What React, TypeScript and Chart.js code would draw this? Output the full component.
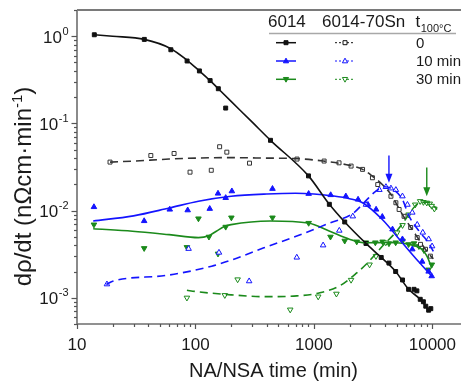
import React, { useEffect, useRef } from 'react';
import { Chart, registerables } from 'chart.js';

Chart.register(...registerables);

// ---- axes ----
const X_MIN = 10;
const X_MAX = 17450;
const Y_MIN = 5e-4;
const Y_MAX = 2;
const xTickValues = [10, 100, 1000, 10000];
const xTickLabels = ['10', '100', '1000', '10000'];
const yTickValues = [1, 0.1, 0.01, 0.001];
const yTickExponents = ['0', '-1', '-2', '-3'];
const xTitle = 'NA/NSA time (min)';
const yTitleMain = 'dρ/dt (nΩcm·min';
const yTitleSup = '-1';
const yTitleEnd = ')';

// ---- legend ----
const legendHeaders = ['6014', '6014-70Sn'];
const legendT = 't';
const legendTSub = '100°C';
const legendRows = ['0', '10 min', '30 min'];

// ---- colours ----
const BLACK = '#111111';
const BLUE = '#1414ff';
const GREEN = '#1b8a1b';

// ---- 6014, t=0 (filled squares, solid) ----
const a0FitX = [14, 20, 37, 62, 85, 108, 133, 156, 200, 300, 430, 900, 1350, 1820, 2750, 3700, 4900, 6300, 7900, 9300];
const a0FitY = [1.04, 1.0, 0.92, 0.72, 0.53, 0.4, 0.31, 0.25, 0.179, 0.104, 0.064, 0.025, 0.0118, 0.0074, 0.0042, 0.0029, 0.002, 0.00125, 0.00096, 0.00072];
const a0PtX = [14, 37, 62, 85, 108, 133, 156, 180, 430, 900, 1350, 1820, 2750, 3700, 4300, 4900, 5600, 6300, 7000, 7400, 7900, 8400, 8800, 9300, 9700];
const a0PtY = [1.04, 0.92, 0.7, 0.52, 0.4, 0.31, 0.25, 0.15, 0.064, 0.025, 0.0118, 0.0074, 0.0042, 0.0029, 0.0025, 0.002, 0.0016, 0.00125, 0.00125, 0.0012, 0.00096, 0.0009, 0.0008, 0.00072, 0.00075];

// ---- 6014-70Sn, t=0 (open squares, dashed) ----
const b0FitX = [19, 30, 60, 100, 200, 400, 700, 1200, 2000, 2575, 3120, 3780, 4470, 5590, 7220, 9300, 10200];
const b0FitY = [0.036, 0.037, 0.039, 0.04, 0.0405, 0.04, 0.0395, 0.037, 0.033, 0.0297, 0.0248, 0.0199, 0.0153, 0.009, 0.0053, 0.0032, 0.0028];
const b0PtX = [19, 42, 66, 90, 136, 160, 184, 286, 720, 1220, 1630, 2060, 2575, 3120, 3460, 4470, 4920, 5240, 5770, 6560, 7450, 7940, 8750, 9620];
const b0PtY = [0.036, 0.0428, 0.0452, 0.0276, 0.029, 0.054, 0.0468, 0.035, 0.039, 0.037, 0.0353, 0.0324, 0.0297, 0.0238, 0.0199, 0.0146, 0.0123, 0.0103, 0.0086, 0.0064, 0.0049, 0.0041, 0.0036, 0.003];

// ---- 6014, t=10 min (filled triangles, solid) ----
const a10FitX = [13.7, 30, 60, 106, 200, 400, 700, 1000, 1400, 2000, 2575, 3780, 5550, 7640, 9870];
const a10FitY = [0.0076, 0.0087, 0.0107, 0.0128, 0.0146, 0.0155, 0.0158, 0.0155, 0.0148, 0.0137, 0.0123, 0.0079, 0.0043, 0.0026, 0.00177];
const a10PtX = [13.9, 36.9, 60.7, 86, 132, 155, 180, 203, 447, 903, 1386, 1860, 2360, 2860, 3350, 3780, 4610, 5590, 6770, 8200, 9300, 9870];
const a10PtY = [0.011, 0.0076, 0.0103, 0.0101, 0.0105, 0.0157, 0.014, 0.0167, 0.0178, 0.0156, 0.0151, 0.0146, 0.0134, 0.0117, 0.0103, 0.0085, 0.0061, 0.0047, 0.0036, 0.0026, 0.002, 0.00177];

// ---- 6014-70Sn, t=10 min (open triangles, dashed) ----
const b10FitX = [17.7, 20, 56, 137, 200, 378, 717, 1360, 2140, 2750, 3300, 3930, 4500, 5590, 6310, 7890, 9260, 10190];
const b10FitY = [0.00142, 0.00155, 0.0018, 0.0023, 0.0027, 0.00374, 0.0051, 0.0072, 0.0093, 0.013, 0.0165, 0.0188, 0.018, 0.0134, 0.0088, 0.0056, 0.0043, 0.0034];
const b10PtX = [17.9, 87.5, 158, 284, 717, 1196, 1638, 2130, 2750, 3570, 4055, 4470, 4920, 5590, 6160, 6770, 7450, 8300, 9310, 9950];
const b10PtY = [0.00143, 0.00365, 0.0033, 0.00155, 0.0029, 0.004, 0.0059, 0.0086, 0.0117, 0.0173, 0.0187, 0.018, 0.0173, 0.0146, 0.0117, 0.0095, 0.0069, 0.0056, 0.0047, 0.0039];

// ---- 6014, t=30 min (filled down-triangles, solid) ----
const a30FitX = [13.7, 29.4, 60, 106, 128, 150, 177, 200, 430, 897, 1360, 1995, 2750, 4300, 6310, 8140, 9000, 9870];
const a30FitY = [0.0062, 0.0058, 0.0053, 0.0049, 0.0051, 0.0058, 0.0066, 0.0069, 0.0076, 0.0072, 0.0058, 0.0047, 0.00427, 0.0043, 0.0041, 0.0036, 0.003, 0.0022];
const a30PtX = [13.9, 36.9, 84.7, 106, 130, 155, 180, 201, 447, 903, 1380, 1820, 2300, 2750, 3300, 3800, 4300, 4900, 5600, 6300, 7000, 7700, 8500, 9260, 9900];
const a30PtY = [0.0069, 0.0037, 0.0038, 0.0081, 0.005, 0.0032, 0.0065, 0.0083, 0.0083, 0.0072, 0.005, 0.0045, 0.0044, 0.0043, 0.0043, 0.0044, 0.0042, 0.0043, 0.0045, 0.0041, 0.0042, 0.0039, 0.0035, 0.0021, 0.0024];

// ---- 6014-70Sn, t=30 min (open down-triangles, dashed) ----
const b30FitX = [84.7, 100, 200, 378, 717, 1122, 1648, 2270, 2930, 3780, 4887, 5920, 7170, 8000, 8870, 10190, 10950];
const b30FitY = [0.00122, 0.00118, 0.00108, 0.00103, 0.00105, 0.00114, 0.00137, 0.0019, 0.00263, 0.0039, 0.0056, 0.0079, 0.0113, 0.0123, 0.0125, 0.0115, 0.0103];
const b30PtX = [84.7, 177, 227, 631, 1087, 1549, 2060, 2950, 3340, 4045, 5050, 5600, 6300, 7170, 7890, 8400, 8970, 9500, 9870, 10400];
const b30PtY = [0.001, 0.00107, 0.00162, 0.00073, 0.00103, 0.00111, 0.0016, 0.0024, 0.003, 0.0043, 0.0056, 0.0068, 0.009, 0.0117, 0.0128, 0.0125, 0.0123, 0.012, 0.0113, 0.0105];

// ---- arrows ----
const arrowX = [4300, 8970];
const arrowTop = [0.0428, 0.0312];
const arrowTip = [0.0208, 0.0146];
const arrowColors = [BLUE, GREEN];

const FONT = '"Liberation Sans", Arial, Helvetica, sans-serif';

const zip = (xs: number[], ys: number[]) => xs.map((x, i) => ({ x, y: ys[i] }));

function fitDs(xs: number[], ys: number[], color: string, dashed: boolean) {
  return {
    data: zip(xs, ys),
    showLine: true,
    borderColor: color,
    backgroundColor: color,
    borderWidth: 1.6,
    borderDash: dashed ? [8, 5] : [],
    pointRadius: 0,
    tension: 0.4,
    cubicInterpolationMode: 'monotone',
  };
}

function ptDs(xs: number[], ys: number[], color: string, style: string, open: boolean, rot: number) {
  return {
    data: zip(xs, ys),
    showLine: false,
    borderColor: color,
    backgroundColor: open ? '#ffffff' : color,
    pointStyle: style,
    pointRotation: rot,
    pointRadius: style === 'rect' ? 2.8 : 3.2,
    pointBorderWidth: 1,
    pointBorderColor: color,
    pointBackgroundColor: open ? '#ffffff' : color,
  };
}

function drawMarker(ctx: CanvasRenderingContext2D, x: number, y: number, kind: string, color: string, open: boolean, r: number) {
  ctx.save();
  ctx.beginPath();
  if (kind === 'rect') {
    ctx.rect(x - r, y - r, 2 * r, 2 * r);
  } else if (kind === 'up') {
    ctx.moveTo(x, y - r * 1.1);
    ctx.lineTo(x + r, y + r * 0.7);
    ctx.lineTo(x - r, y + r * 0.7);
    ctx.closePath();
  } else {
    ctx.moveTo(x, y + r * 1.1);
    ctx.lineTo(x + r, y - r * 0.7);
    ctx.lineTo(x - r, y - r * 0.7);
    ctx.closePath();
  }
  ctx.fillStyle = open ? '#ffffff' : color;
  ctx.fill();
  ctx.strokeStyle = color;
  ctx.lineWidth = 1;
  ctx.stroke();
  ctx.restore();
}

const decorPlugin = {
  id: 'decor',
  beforeDatasetsDraw(chart: any) {
    const { ctx, chartArea: a, scales } = chart;
    const xs = scales.x;
    const ys = scales.y;
    ctx.save();
    ctx.strokeStyle = '#6e6e6e';
    ctx.lineWidth = 1.6;
    ctx.beginPath();
    ctx.moveTo(a.left, a.top);
    ctx.lineTo(a.left, a.bottom);
    ctx.lineTo(a.right, a.bottom);
    ctx.stroke();
    ctx.lineWidth = 2;
    ctx.strokeStyle = '#7a7a7a';
    ctx.beginPath();
    ctx.moveTo(a.left, a.top);
    ctx.lineTo(a.right, a.top);
    ctx.stroke();

    ctx.lineWidth = 1.2;
    ctx.strokeStyle = '#555555';
    for (let e = 1; e <= 4; e++) {
      for (let m = 1; m <= 9; m++) {
        const v = m * Math.pow(10, e);
        if (v < X_MIN || v > X_MAX) continue;
        const px = Math.round(xs.getPixelForValue(v)) + 0.5;
        const len = m === 1 ? 5 : 3;
        ctx.beginPath();
        ctx.moveTo(px, a.bottom);
        ctx.lineTo(px, a.bottom + len);
        ctx.stroke();
      }
    }
    for (let e = -4; e <= 0; e++) {
      for (let m = 1; m <= 9; m++) {
        const v = m * Math.pow(10, e);
        if (v < Y_MIN - 1e-12 || v > Y_MAX + 1e-12) continue;
        const py = Math.round(ys.getPixelForValue(v)) + 0.5;
        const len = m === 1 ? 5.5 : 3;
        ctx.beginPath();
        ctx.moveTo(a.left, py);
        ctx.lineTo(a.left - len, py);
        ctx.stroke();
      }
    }
    ctx.restore();
  },
  afterDraw(chart: any) {
    const { ctx, scales } = chart;
    const xs = scales.x;
    const ys = scales.y;
    ctx.save();
    ctx.fillStyle = '#1a1a1a';

    ctx.font = `17px ${FONT}`;
    ctx.textAlign = 'center';
    ctx.textBaseline = 'alphabetic';
    xTickValues.forEach((v, i) => {
      ctx.fillText(xTickLabels[i], xs.getPixelForValue(v), 350);
    });

    yTickValues.forEach((v, i) => {
      const py = ys.getPixelForValue(v);
      const right = 68;
      ctx.textAlign = 'left';
      ctx.font = `11px ${FONT}`;
      const supW = ctx.measureText(yTickExponents[i]).width;
      ctx.font = `17px ${FONT}`;
      const baseW = ctx.measureText('10').width;
      const sx = right - supW - baseW;
      ctx.fillText('10', sx, py + 6.5);
      ctx.font = `11px ${FONT}`;
      ctx.fillText(yTickExponents[i], sx + baseW + 0.5, py - 1.5);
    });

    ctx.font = `20px ${FONT}`;
    ctx.textAlign = 'center';
    ctx.fillText(xTitle, 273.5, 377);

    ctx.save();
    ctx.translate(31, 186.5);
    ctx.rotate(-Math.PI / 2);
    ctx.textAlign = 'left';
    ctx.font = `24px ${FONT}`;
    const w1 = ctx.measureText(yTitleMain).width;
    const w3 = ctx.measureText(yTitleEnd).width;
    ctx.font = `15px ${FONT}`;
    const w2 = ctx.measureText(yTitleSup).width;
    const total = w1 + w2 + w3;
    let sx = -total / 2;
    ctx.font = `24px ${FONT}`;
    ctx.fillText(yTitleMain, sx, 0);
    sx += w1;
    ctx.font = `15px ${FONT}`;
    ctx.fillText(yTitleSup, sx, -9);
    sx += w2;
    ctx.font = `24px ${FONT}`;
    ctx.fillText(yTitleEnd, sx, 0);
    ctx.restore();

    arrowX.forEach((v, i) => {
      const px = xs.getPixelForValue(v);
      const pt = ys.getPixelForValue(arrowTop[i]);
      const pb = ys.getPixelForValue(arrowTip[i]);
      ctx.strokeStyle = arrowColors[i];
      ctx.fillStyle = arrowColors[i];
      ctx.lineWidth = 1.4;
      ctx.beginPath();
      ctx.moveTo(px, pt);
      ctx.lineTo(px, pb - 6);
      ctx.stroke();
      ctx.beginPath();
      ctx.moveTo(px - 3.5, pb - 9);
      ctx.lineTo(px + 3.5, pb - 9);
      ctx.lineTo(px, pb);
      ctx.closePath();
      ctx.fill();
    });

    ctx.fillStyle = '#1a1a1a';
    ctx.textAlign = 'left';
    ctx.font = `17px ${FONT}`;
    ctx.fillText(legendHeaders[0], 268, 27);
    ctx.fillText(legendHeaders[1], 322, 27);
    ctx.fillText(legendT, 415.5, 27);
    const tW = ctx.measureText(legendT).width;
    ctx.font = `11px ${FONT}`;
    ctx.fillText(legendTSub, 415.5 + tW + 0.5, 31.5);
    ctx.strokeStyle = '#a8a8a8';
    ctx.lineWidth = 1.5;
    ctx.beginPath();
    ctx.moveTo(269, 33.5);
    ctx.lineTo(456, 33.5);
    ctx.stroke();

    const rowY = [42.7, 61, 79.3];
    const rowColors = [BLACK, BLUE, GREEN];
    const rowKinds = ['rect', 'up', 'down'];
    ctx.font = `15px ${FONT}`;
    legendRows.forEach((label, i) => {
      const y = rowY[i];
      const c = rowColors[i];
      ctx.strokeStyle = c;
      ctx.lineWidth = 1.5;
      ctx.setLineDash([]);
      ctx.beginPath();
      ctx.moveTo(276, y);
      ctx.lineTo(296, y);
      ctx.stroke();
      drawMarker(ctx, 286, y, rowKinds[i], c, false, rowKinds[i] === 'rect' ? 2 : 2.6);
      ctx.lineWidth = 1;
      ctx.setLineDash([2, 2]);
      ctx.beginPath();
      ctx.moveTo(335, y);
      ctx.lineTo(355, y);
      ctx.stroke();
      ctx.setLineDash([]);
      drawMarker(ctx, 345, y, rowKinds[i], c, true, rowKinds[i] === 'rect' ? 2 : 2.6);
      ctx.fillStyle = '#1a1a1a';
      ctx.fillText(label, 416, y + 5);
    });
    ctx.restore();
  },
};

export default function App() {
  const ref = useRef<HTMLCanvasElement | null>(null);
  useEffect(() => {
    if (!ref.current) return;
    const chart = new Chart(ref.current, {
      type: 'scatter',
      data: {
        datasets: [
          fitDs(a0FitX, a0FitY, BLACK, false),
          fitDs(b0FitX, b0FitY, '#333333', true),
          fitDs(a10FitX, a10FitY, BLUE, false),
          fitDs(b10FitX, b10FitY, BLUE, true),
          fitDs(a30FitX, a30FitY, GREEN, false),
          fitDs(b30FitX, b30FitY, GREEN, true),
          ptDs(b0PtX, b0PtY, '#333333', 'rect', true, 0),
          ptDs(b10PtX, b10PtY, BLUE, 'triangle', true, 0),
          ptDs(b30PtX, b30PtY, GREEN, 'triangle', true, 180),
          ptDs(a0PtX, a0PtY, BLACK, 'rect', false, 0),
          ptDs(a10PtX, a10PtY, BLUE, 'triangle', false, 0),
          ptDs(a30PtX, a30PtY, GREEN, 'triangle', false, 180),
        ] as any,
      },
      options: {
        animation: false,
        responsive: false,
        devicePixelRatio: 1,
        events: [],
        layout: { padding: { left: 77, top: 10, right: 0, bottom: 59 } },
        plugins: { legend: { display: false }, tooltip: { enabled: false } },
        scales: {
          x: { type: 'logarithmic', min: X_MIN, max: X_MAX, display: false },
          y: { type: 'logarithmic', min: Y_MIN, max: Y_MAX, display: false },
        },
      } as any,
      plugins: [decorPlugin],
    });
    return () => chart.destroy();
  }, []);
  return (
    <div style={{ position: 'fixed', left: 0, top: 0, width: 466, height: 383, background: '#ffffff' }}>
      <canvas ref={ref} width={466} height={383} style={{ display: 'block' }} />
    </div>
  );
}
